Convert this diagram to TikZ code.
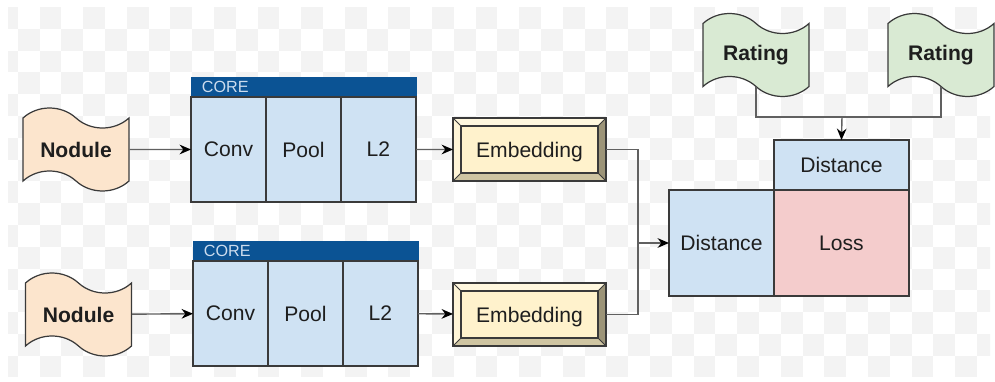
\documentclass[tikz,border=0pt]{standalone}
\usepackage{fontspec}
\setmainfont{Liberation Sans}
\usetikzlibrary{arrows.meta,positioning,shapes.symbols,calc}
\definecolor{peach}{HTML}{FCE5CD}
\definecolor{mint}{HTML}{D9EAD3}
\definecolor{paleblue}{HTML}{CFE2F3}
\definecolor{coreblue}{HTML}{0B5394}
\definecolor{coretext}{HTML}{CCDCEE}
\definecolor{rose}{HTML}{F4CCCC}
\definecolor{cream}{HTML}{FFF2CC}
\definecolor{bevlight}{HTML}{FFF7DE}
\definecolor{bevdark}{HTML}{9C9478}
\definecolor{bevmid}{HTML}{CFC5A2}
\definecolor{edge}{HTML}{3A3A3A}
\definecolor{wire}{HTML}{606060}
\definecolor{ink}{HTML}{1E1E1E}
\definecolor{checker}{HTML}{F3F3F3}
\tikzset{
  flag/.style={shape=tape, draw=edge, line width=0.7pt, text=ink,
    tape bend top=out and in, tape bend bottom=out and in,
    tape bend height=0.4cm, minimum width=2.12cm, minimum height=1.66cm,
    inner sep=0pt, font=\bfseries\fontsize{12}{14}\selectfont},
  header/.style={draw=coreblue, fill=coreblue, text=coretext, anchor=north west,
    minimum height=0.4cm, text width=4.06cm, align=left, inner xsep=0.22cm,
    inner ysep=0pt, outer sep=0pt, font=\fontsize{9.2}{10}\selectfont},
  cell/.style={draw=edge, line width=0.7pt, fill=paleblue, text=ink, anchor=north west,
    minimum width=1.5cm, minimum height=2.1cm, inner sep=0pt, outer sep=0pt,
    font=\fontsize{12}{14}\selectfont},
  box/.style={draw=edge, line width=0.7pt, text=ink, inner sep=0pt, outer sep=0pt,
    font=\fontsize{12}{14}\selectfont},
  bevel/.style={draw=edge, line width=0.7pt, fill=cream, text=ink, inner sep=0pt,
    outer sep=0pt, minimum width=3.06cm, minimum height=1.26cm, text depth=0pt,
    font=\fontsize{12}{14}\selectfont},
  wire/.style={draw=wire, line width=0.8pt},
  arr/.style={wire, -{Stealth[length=6.5pt,width=5.5pt,color=black]}}
}
\newcommand{\Core}[2]% top left, suffix
{\node[header] (core#2) at (#1) {CORE};
  \node[cell] (conv#2) at (core#2.south west) {Conv};
  \node[cell] (pool#2) at (conv#2.north east) {Pool};
  \node[cell] (ltwo#2) at (pool#2.north east) {L2};
}
\newcommand{\Bevel}[3]% pos, name, text
{\node[bevel] (#2) at (#1) {#3};
  \fill[bevlight] (#2.north west) -- (#2.north east) -- ($(#2.north east)+(-8,8)$) -- ($(#2.north west)+(8,8)$) -- cycle;
  \fill[bevlight!60!cream] (#2.north west) -- ($(#2.north west)+(8,8)$) -- ($(#2.south west)+(8,-8)$) -- (#2.south west) -- cycle;
  \fill[bevdark] (#2.north east) -- ($(#2.north east)+(-8,8)$) -- ($(#2.south east)+(-8,-8)$) -- (#2.south east) -- cycle;
  \fill[bevmid] (#2.south west) -- ($(#2.south west)+(8,-8)$) -- ($(#2.south east)+(-8,-8)$) -- (#2.south east) -- cycle;
  \draw[edge, line width=0.6pt] ($(#2.north west)+(8,8)$) rectangle ($(#2.south east)+(-8,-8)$);
  \draw[edge, line width=0.5pt] (#2.north west) -- ++(8,8) (#2.north east) -- ++(-8,8)
    (#2.south west) -- ++(8,-8) (#2.south east) -- ++(-8,-8);
  \draw[edge, line width=0.7pt] (#2.north west) rectangle (#2.south east);
}
\begin{document}
\begin{tikzpicture}[x=0.02cm, y=-0.02cm]
  \useasboundingbox (0,0) rectangle (995,382);
  % checkered backdrop
  \begin{scope}
    \clip (8,7) rectangle (990,376);
    \foreach \i in {0,2,...,46}
      \foreach \j in {0,2,...,16} {
        \fill[checker] ({-4+21.8*\i},{7+21.8*\j}) rectangle ++(21.8,21.8);
        \fill[checker] ({-4+21.8*(\i+1)},{7+21.8*(\j+1)}) rectangle ++(21.8,21.8);
      }
  \end{scope}
  % inputs
  \node[flag, fill=peach] (nod1) at (76,149.5) {Nodule};
  \node[flag, fill=peach] (nod2) at (78.5,314.5) {Nodule};
  % cores
  \Core{191,77}{1}
  \Core{193,241}{2}
  % embeddings
  \Bevel{529.5,149.5}{emb1}{Embedding}
  \Bevel{529.5,314.5}{emb2}{Embedding}
  % loss block
  \node[box, fill=paleblue, minimum width=2.1cm, minimum height=2.12cm] (dist) at (721.5,243) {Distance};
  \node[box, fill=rose, minimum width=2.7cm, minimum height=2.12cm, anchor=west] (loss) at (dist.east) {Loss};
  \node[box, fill=paleblue, minimum width=2.7cm, minimum height=1cm, anchor=south] (dtop) at (loss.north) {Distance};
  % ratings
  \node[flag, fill=mint] (rate1) at (756,55) {Rating};
  \node[flag, fill=mint] (rate2) at (941,55) {Rating};
  \coordinate (junc) at (638,243);
  \coordinate (rjoin) at (842,117);
  % connectors
  \draw[arr] (nod1) -- (conv1);
  \draw[arr] (nod2) -- (conv2);
  \draw[arr] (ltwo1) -- (emb1);
  \draw[arr] (ltwo2) -- (emb2);
  \draw[wire] (emb1.east) -| (junc);
  \draw[wire] (emb2.east) -| (junc);
  \draw[arr] (junc) -- (dist.west);
  \draw[wire] (rate1.south) |- (rjoin) -| (rate2.south);
  \draw[arr] (rjoin) -- (dtop.north);
\end{tikzpicture}
\end{document}
